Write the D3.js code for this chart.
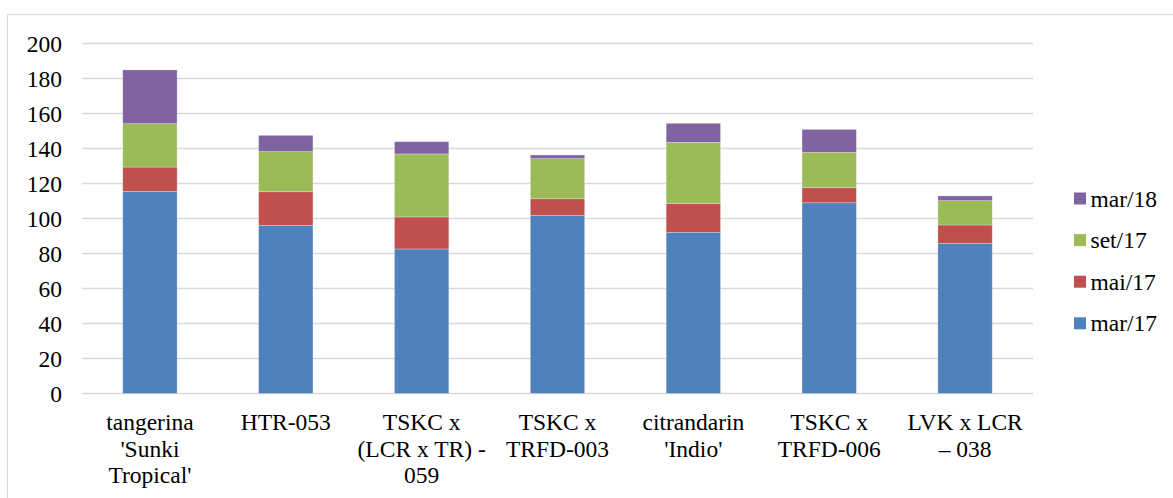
<!DOCTYPE html>
<html>
<head>
<meta charset="utf-8">
<script src="https://cdn.jsdelivr.net/npm/d3@7/dist/d3.min.js"></script>
<style>
  html, body { margin: 0; padding: 0; background: #fff; }
  svg text, svg tspan { font-family: "Times New Roman", Tinos, "Liberation Serif", serif !important; }
</style>
</head>
<body>
<svg id="chart" width="1173" height="498"></svg>
<script>
// Rootstock genotypes (x axis, multi-line labels)
const categories = [
  ["tangerina", "'Sunki", "Tropical'"],
  ["HTR-053"],
  ["TSKC x", "(LCR x TR) -", "059"],
  ["TSKC x", "TRFD-003"],
  ["citrandarin", "'Indio'"],
  ["TSKC x", "TRFD-006"],
  ["LVK x LCR", "\u2013 038"]
];

// Stacked series, bottom to top
const seriesNames = ["mar/17", "mai/17", "set/17", "mar/18"];
const mar17 = [115.5, 96.1, 82.6, 101.8, 92.1, 109.0, 85.8];
const mai17 = [13.9, 19.2, 18.3, 9.5, 16.4, 8.6, 10.5];
const set17 = [24.8, 22.9, 36.0, 22.9, 35.0, 20.2, 13.9];
const mar18 = [30.7, 9.3, 7.0, 2.1, 10.9, 13.1, 2.7];

const yTicks = [0, 20, 40, 60, 80, 100, 120, 140, 160, 180, 200];
const colors = ["#4F81BD", "#C0504D", "#9BBB59", "#8064A2"];

const FS = 23.5;
const FONT = "Times New Roman";

const svg = d3.select("#chart");
const W = 1173, H = 498;

// Chart area frame
svg.append("path")
  .attr("d", `M7.5,${H} V14.5 H${W}`)
  .attr("fill", "none")
  .attr("stroke", "#d9d9d9")
  .attr("stroke-width", 1);

const plot = { left: 82, right: 1033, top: 43.5, bottom: 393.5 };

const keys = categories.map((c, i) => i);
const rows = keys.map(i => ({
  idx: i,
  "mar/17": mar17[i], "mai/17": mai17[i], "set/17": set17[i], "mar/18": mar18[i]
}));

const x = d3.scaleBand().domain(keys).range([plot.left, plot.right])
  .paddingInner(0.6).paddingOuter(0.3);
const y = d3.scaleLinear().domain([0, 200]).range([plot.bottom, plot.top]);

// Horizontal gridlines
svg.append("g").selectAll("line").data(yTicks).join("line")
  .attr("x1", plot.left).attr("x2", plot.right)
  .attr("y1", d => y(d)).attr("y2", d => y(d))
  .attr("stroke", "#d9d9d9").attr("stroke-width", 1.5);

// Y axis labels
const yAxis = d3.axisLeft(y).tickValues(yTicks).tickSize(0).tickPadding(0);
const gy = svg.append("g").attr("transform", `translate(${plot.left - 20},0)`).call(yAxis);
gy.select(".domain").remove();
gy.attr("font-family", FONT).attr("font-size", FS);
gy.selectAll("text")
  .attr("font-family", FONT)
  .attr("fill", "#000")
  .attr("dy", "0.34em");

// Stacked bars
const stacked = d3.stack().keys(seriesNames)(rows);
svg.append("g").selectAll("g").data(stacked).join("g")
  .attr("fill", (d, i) => colors[i])
  .selectAll("rect").data(d => d).join("rect")
  .attr("x", d => x(d.data.idx))
  .attr("width", x.bandwidth())
  .attr("y", d => y(d[1]))
  .attr("height", d => y(d[0]) - y(d[1]))
  .attr("stroke", "rgba(255,255,255,0.35)")
  .attr("stroke-width", 0.75);

// X axis category labels
const gx = svg.append("g").attr("font-size", FS);
categories.forEach((lines, i) => {
  const cx = x(i) + x.bandwidth() / 2;
  const t = gx.append("text")
    .attr("text-anchor", "middle")
    .attr("font-family", FONT)
    .attr("fill", "#000");
  lines.forEach((ln, j) => {
    t.append("tspan")
      .attr("x", cx)
      .attr("y", 430 + j * 26.6)
      .text(ln);
  });
});

// Legend (top entry is the last stacked series)
const legendOrder = seriesNames.map((n, i) => ({ name: n, color: colors[i] })).reverse();
const lg = svg.append("g").attr("font-size", FS)
  .selectAll("g").data(legendOrder).join("g")
  .attr("transform", (d, i) => `translate(1074,${198.5 + i * 41.6})`);
lg.append("rect")
  .attr("x", 0).attr("y", -6).attr("width", 12).attr("height", 12)
  .attr("fill", d => d.color);
lg.append("text")
  .attr("x", 16.5).attr("y", 0).attr("dy", "0.34em")
  .attr("font-family", FONT)
  .attr("fill", "#000")
  .text(d => d.name);
</script>
</body>
</html>
